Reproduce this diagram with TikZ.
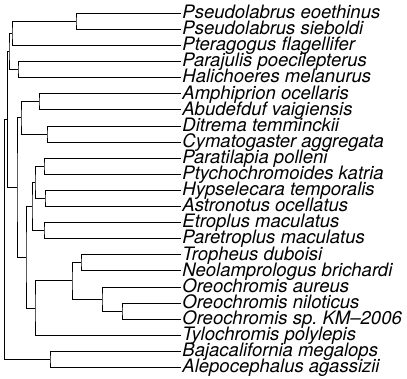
\documentclass[tikz,border=0pt]{standalone}
\usepackage{fontspec}
\setmainfont{TeX Gyre Heros}
\usepackage{tikz}

\begin{document}
\begin{tikzpicture}[
        x=1pt, y=-1pt,
        every path/.style={line width=0.9pt},
        taxon/.style={
            anchor=west,
            inner xsep=1pt,
            inner ysep=0pt,
            text height=13.3pt,
            text depth=2.8pt,
            font=\fontsize{18.5}{18.5}\selectfont\itshape
        }
    ]
    \useasboundingbox (0,0) rectangle (407,379);

    \node[taxon] (eoeth) at (181,13.3) {Pseudolabrus eoethinus};
    \node[taxon] (siebo) at (181,29.4) {Pseudolabrus sieboldi};
    \node[taxon] (ptera) at (181,45.5) {Pteragogus flagellifer};
    \node[taxon] (paraj) at (181,61.6) {Parajulis poecilepterus};
    \node[taxon] (halic) at (181,77.7) {Halichoeres melanurus};
    \node[taxon] (amphi) at (181,93.8) {Amphiprion ocellaris};
    \node[taxon] (abude) at (181,109.9) {Abudefduf vaigiensis};
    \node[taxon] (ditre) at (181,126.0) {Ditrema temminckii};
    \node[taxon] (cymat) at (181,142.1) {Cymatogaster aggregata};
    \node[taxon] (parat) at (181,158.2) {Paratilapia polleni};
    \node[taxon] (ptych) at (181,174.3) {Ptychochromoides katria};
    \node[taxon] (hypse) at (181,190.4) {Hypselecara temporalis};
    \node[taxon] (astro) at (181,206.5) {Astronotus ocellatus};
    \node[taxon] (etrop) at (181,222.6) {Etroplus maculatus};
    \node[taxon] (paret) at (181,238.7) {Paretroplus maculatus};
    \node[taxon] (troph) at (181,254.8) {Tropheus duboisi};
    \node[taxon] (neola) at (181,270.9) {Neolamprologus brichardi};
    \node[taxon] (oaure) at (181,287.0) {Oreochromis aureus};
    \node[taxon] (oniLo) at (181,303.1) {Oreochromis niloticus};
    \node[taxon] (osp)   at (181,319.2) {Oreochromis sp.\ KM--2006};
    \node[taxon] (tyloc) at (181,335.3) {Tylochromis polylepis};
    \node[taxon] (bajac) at (181,351.4) {Bajacalifornia megalops};
    \node[taxon] (alepo) at (181,367.5) {Alepocephalus agassizii};

    \coordinate (pseudo)   at (76,21.35);
    \coordinate (labA)     at (12,33.4);
    \coordinate (labB)     at (18,69.65);
    \coordinate (labrid)   at (9,51.5);
    \coordinate (pomac)    at (39,101.85);
    \coordinate (embio)    at (47,134.05);
    \coordinate (ovalent)  at (21,117.95);
    \coordinate (ptyA)     at (44,166.25);
    \coordinate (cichla)   at (45,198.45);
    \coordinate (madnw)    at (35,182.35);
    \coordinate (etropl)   at (44,230.65);
    \coordinate (cichB)    at (32,206.5);
    \coordinate (lamprol)  at (81,262.85);
    \coordinate (oreoB)    at (122,311.15);
    \coordinate (oreoA)    at (102,299.1);
    \coordinate (pseudocr) at (72,280.95);
    \coordinate (cichC)    at (35,308.1);
    \coordinate (cichlid)  at (26,257.3);
    \coordinate (percA)    at (17,187.6);
    \coordinate (perc)     at (7.5,119.55);
    \coordinate (alepoc)   at (50,359.45);
    \coordinate (root)     at (4.5,239.5);

    \draw (eoeth.west) -| (pseudo) |- (siebo.west);
    \draw (pseudo) -| (labA) |- (ptera.west);
    \draw (paraj.west) -| (labB) |- (halic.west);
    \draw (labA) -| (labrid) |- (labB);
    \draw (amphi.west) -| (pomac) |- (abude.west);
    \draw (ditre.west) -| (embio) |- (cymat.west);
    \draw (pomac) -| (ovalent) |- (embio);
    \draw (parat.west) -| (ptyA) |- (ptych.west);
    \draw (hypse.west) -| (cichla) |- (astro.west);
    \draw (ptyA) -| (madnw) |- (cichla);
    \draw (etrop.west) -| (etropl) |- (paret.west);
    \draw (madnw) -| (cichB) |- (etropl);
    \draw (troph.west) -| (lamprol) |- (neola.west);
    \draw (oniLo.west) -| (oreoB) |- (osp.west);
    \draw (oaure.west) -| (oreoA) |- (oreoB);
    \draw (lamprol) -| (pseudocr) |- (oreoA);
    \draw (pseudocr) -| (cichC) |- (tyloc.west);
    \draw (cichB) -| (cichlid) |- (cichC);
    \draw (ovalent) -| (percA) |- (cichlid);
    \draw (labrid) -| (perc) |- (percA);
    \draw (bajac.west) -| (alepoc) |- (alepo.west);
    \draw (perc) -| (root) |- (alepoc);
\end{tikzpicture}
\end{document}
